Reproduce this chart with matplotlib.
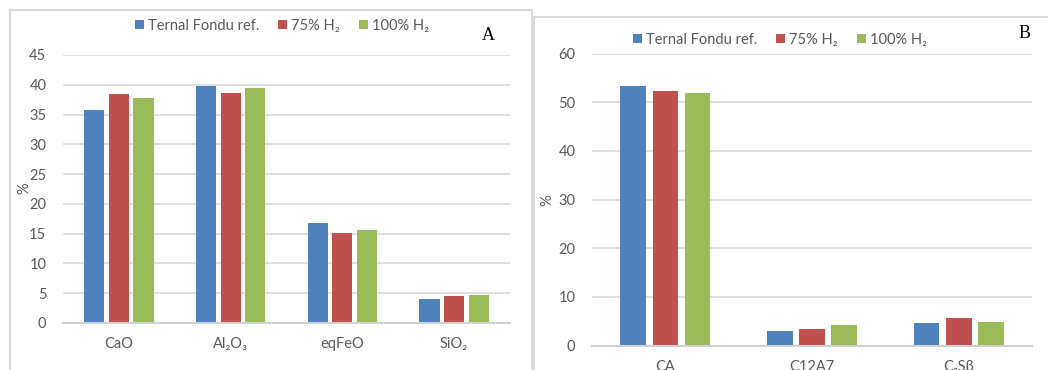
import matplotlib
matplotlib.use("Agg")
import numpy as np
from matplotlib import pyplot as plt
from matplotlib.patches import Rectangle, Patch

# panel A: oxide composition
oxides = ["CaO", "Al₂O₃", "eqFeO", "SiO₂"]
ox_ref = [35.7, 39.8, 16.8, 4.1]
ox_75 = [38.4, 38.7, 15.1, 4.5]
ox_100 = [37.8, 39.5, 15.6, 4.7]

# panel B: phases
phases = ["CA", "C12A7", "C₂Sβ"]
ph_ref = [53.4, 3.0, 4.6]
ph_75 = [52.3, 3.4, 5.6]
ph_100 = [51.8, 4.2, 4.8]

series_names = ["Ternal Fondu ref.", "75% H₂", "100% H₂"]
colors = ["#4F81BD", "#C0504D", "#9BBB59"]

W, H = 1048, 370
plt.rcParams["font.family"] = ["Lato", "DejaVu Sans"]

fig = plt.figure(figsize=(W / 100, H / 100), dpi=100)
fig.patch.set_facecolor("white")


def px_box(x0, y_top, x1, y_bot):
    return [x0 / W, 1 - y_bot / H, (x1 - x0) / W, (y_bot - y_top) / H]


def fx(x):
    return x / W


def fy(y):
    return 1 - y / H


# chart frames
fig.patches.append(Rectangle((fx(10), fy(372)), fx(522), fy(10) - fy(372),
                             transform=fig.transFigure, fill=False,
                             edgecolor="#D9D9D9", linewidth=1.5))
fig.patches.append(Rectangle((fx(534), fy(372)), fx(520), fy(17) - fy(372),
                             transform=fig.transFigure, fill=False,
                             edgecolor="#D9D9D9", linewidth=1.5))


def draw_panel(box, cats, data, ymax, ystep, bw):
    ax = fig.add_axes(box)
    x = np.arange(len(cats))
    step = 0.22
    for i, vals in enumerate(data):
        ax.bar(x + (i - 1) * step, vals, width=bw, color=colors[i], zorder=3)
    ax.set_xlim(-0.5, len(cats) - 0.5)
    ax.set_ylim(0, ymax)
    ax.set_yticks(np.arange(0, ymax + 0.1, ystep))
    ax.set_xticks(x)
    ax.set_xticklabels(cats)
    ax.grid(axis="y", color="#D9D9D9", linewidth=1.2, zorder=0)
    for s in ["top", "right", "left"]:
        ax.spines[s].set_visible(False)
    ax.spines["bottom"].set_color("#D0D0D0")
    ax.spines["bottom"].set_linewidth(1.5)
    ax.spines["bottom"].set_zorder(4)
    ax.tick_params(axis="both", length=0, labelsize=10.5, colors="#595959")
    ax.tick_params(axis="y", pad=12)
    ax.tick_params(axis="x", pad=10)
    return ax


axA = draw_panel(px_box(63, 55, 510, 323), oxides, [ox_ref, ox_75, ox_100], 45, 5, 0.18)
axB = draw_panel(px_box(592, 53.5, 1032, 345.7), phases, [ph_ref, ph_75, ph_100], 60, 10, 0.175)

fig.text(fx(24), fy(188), "%", rotation=90, ha="center", va="center",
         fontsize=10.5, color="#595959")
fig.text(fx(547), fy(200), "%", rotation=90, ha="center", va="center",
         fontsize=10.5, color="#595959")

fig.text(fx(488), fy(35), "A", ha="center", va="center", fontsize=13,
         family="Liberation Serif", color="black")
fig.text(fx(1025), fy(33), "B", ha="center", va="center", fontsize=13,
         family="Liberation Serif", color="black")

handles = [Patch(facecolor=c, edgecolor="none") for c in colors]
for cx, cy in [(282, 26), (780, 40)]:
    fig.legend(handles, series_names, loc="center",
               bbox_to_anchor=(fx(cx), fy(cy)), ncol=3, frameon=False,
               fontsize=10.5, labelcolor="#595959", handlelength=0.6,
               handleheight=0.6, handletextpad=0.3, columnspacing=1.3)

fig.savefig("out.png", dpi=100)
